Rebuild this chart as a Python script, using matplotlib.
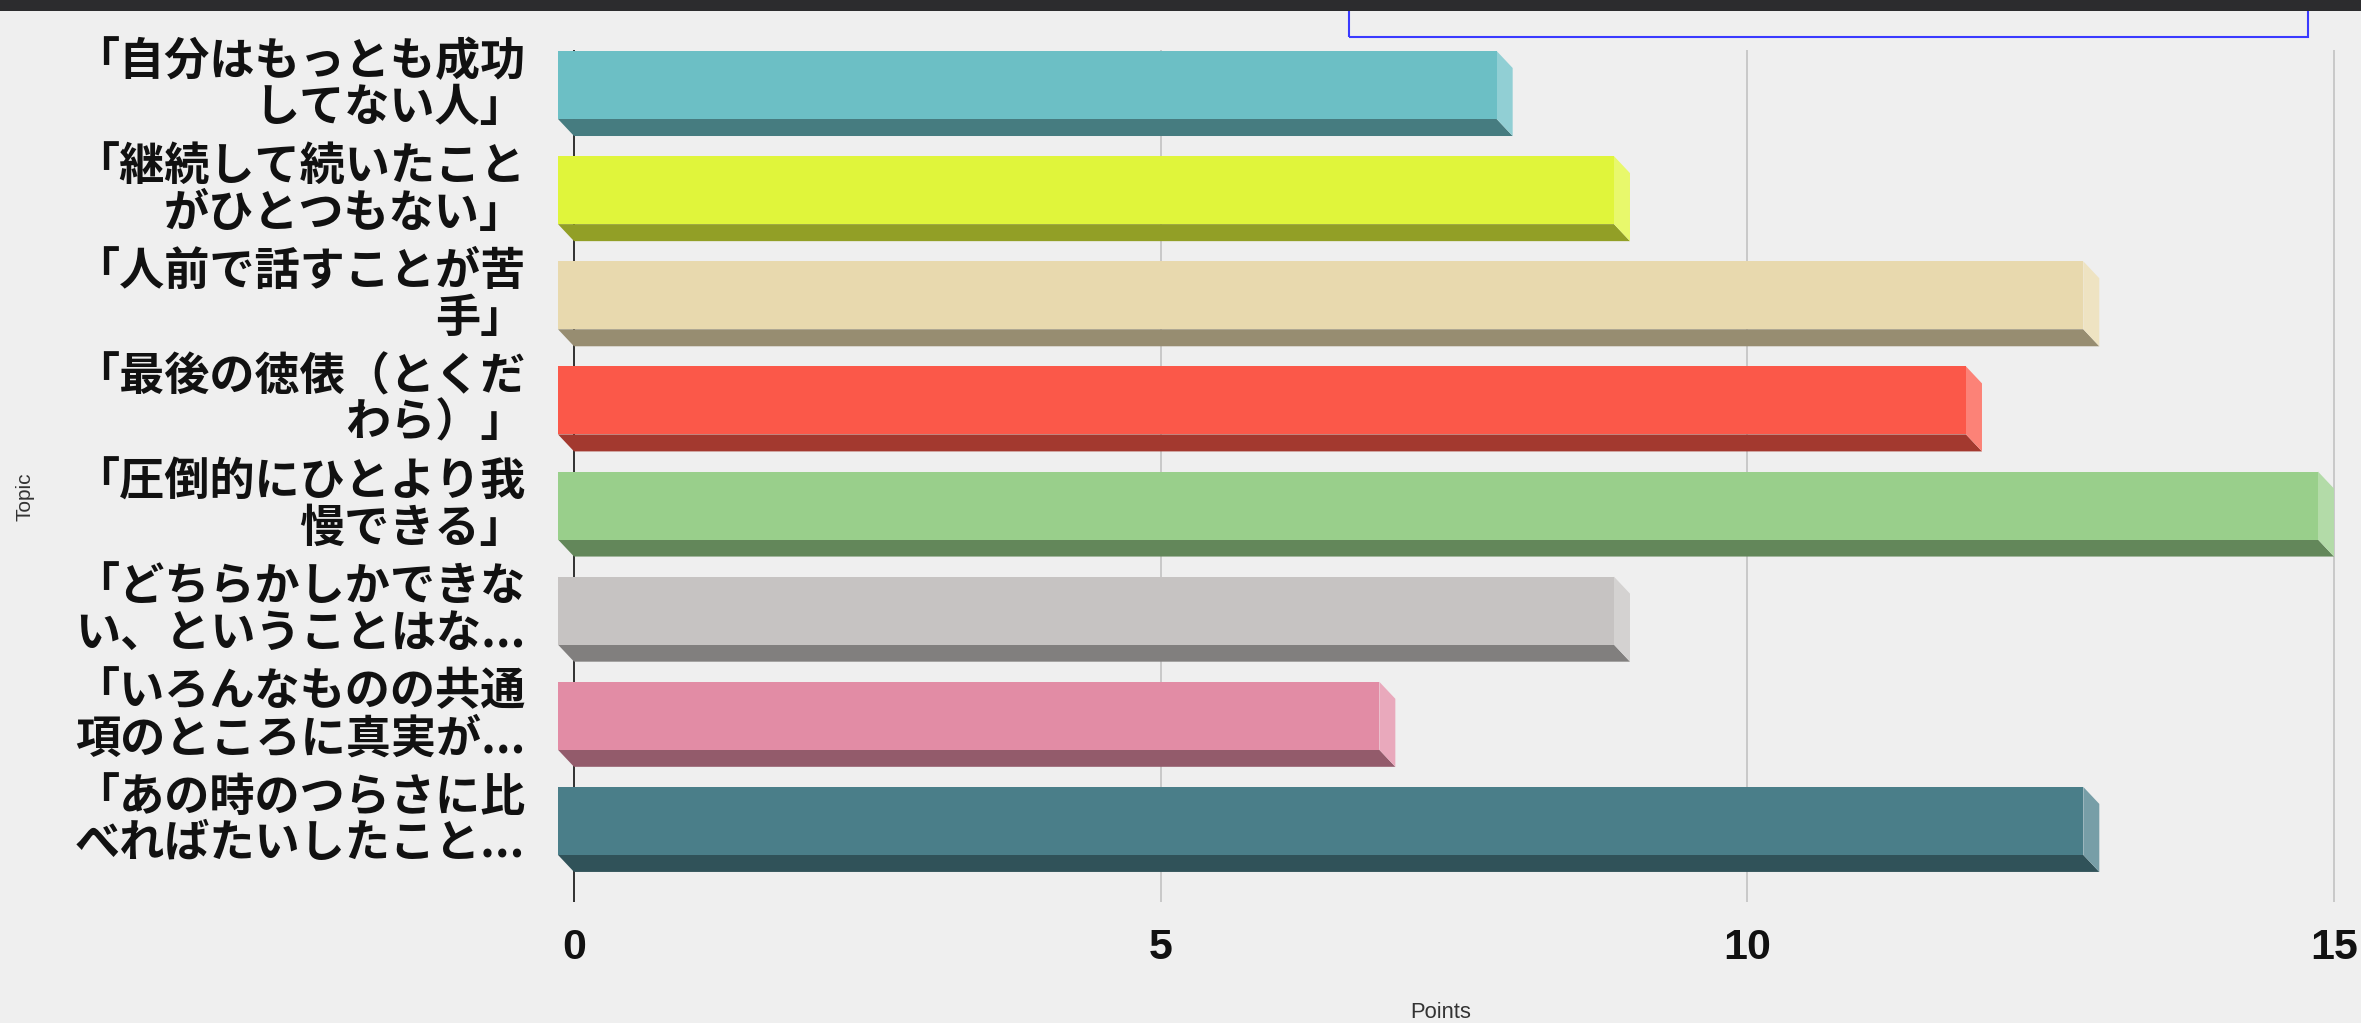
import matplotlib
matplotlib.use("Agg")
import matplotlib.pyplot as plt
from matplotlib.patches import Rectangle, Polygon
from matplotlib.colors import to_rgb

plt.rcParams["font.family"] = ["Noto Sans CJK JP", "DejaVu Sans"]

# data
topics = [
    "「自分はもっとも成功\nしてない人」",
    "「継続して続いたこと\nがひとつもない」",
    "「人前で話すことが苦\n手」",
    "「最後の徳俵（とくだ\nわら）」",
    "「圧倒的にひとより我\n慢できる」",
    "「どちらかしかできな\nい、ということはな...",
    "「いろんなものの共通\n項のところに真実が...",
    "「あの時のつらさに比\nべればたいしたこと...",
]
points = [8, 9, 13, 12, 15, 9, 7, 13]
bar_colors = ["#6cbfc5", "#e0f53b", "#e8d9ae", "#fb5849",
              "#99cf8b", "#c6c3c2", "#e28ca5", "#4a7e89"]
x_ticks = [0, 5, 10, 15]

BG = "#efefef"
W, H, DPI = 2361, 1023, 100

def shade(c, k):
    r, g, b = to_rgb(c)
    return (r * k, g * k, b * k)

def tint(c, k):
    r, g, b = to_rgb(c)
    return (r + (1 - r) * k, g + (1 - g) * k, b + (1 - b) * k)

fig = plt.figure(figsize=(W / DPI, H / DPI), dpi=DPI, facecolor=BG)

# plot area in pixels (from top-left)
ax_l, ax_r, ax_t, ax_b = 544.7, 2345.7, 50, 902
ax = fig.add_axes([ax_l / W, 1 - ax_b / H, (ax_r - ax_l) / W, (ax_b - ax_t) / H])
ax.set_facecolor(BG)
xlo, xhi = -0.25, 15.1
ylo, yhi = 7.771, -0.333
ax.set_xlim(xlo, xhi)
ax.set_ylim(ylo, yhi)

ppx = (ax_r - ax_l) / (xhi - xlo)
ppy = (ax_b - ax_t) / (ylo - yhi)
dx = 16 / ppx   # 3d depth
dy = 17 / ppy
h = 68 / ppy    # bar thickness

for g in x_ticks[1:]:
    ax.axvline(g, color="#c6c6c6", lw=1.3, zorder=0)
ax.axvline(0, color="#222222", lw=1.3, zorder=1)

for i, (v, col) in enumerate(zip(points, bar_colors)):
    top, bot = i - h / 2, i + h / 2
    ax.add_patch(Polygon([(-dx, bot), (v - dx, bot), (v, bot + dy), (0, bot + dy)],
                         closed=True, fc=shade(col, 0.65), ec="none", zorder=3, clip_on=False))
    ax.add_patch(Polygon([(v - dx, top), (v, top + dy), (v, bot + dy), (v - dx, bot)],
                         closed=True, fc=tint(col, 0.25), ec="none", zorder=3, clip_on=False))
    ax.add_patch(Rectangle((-dx, top), v, h, fc=col, ec="none", zorder=4, clip_on=False))

for s in ax.spines.values():
    s.set_visible(False)

ax.set_xticks(x_ticks)
ax.set_xticklabels([str(t) for t in x_ticks], fontfamily="Liberation Sans",
                   fontweight="bold", fontsize=31, color="#111111")
ax.tick_params(axis="x", length=0, pad=19)

ax.set_yticks(range(len(topics)))
ax.set_yticklabels(topics, fontsize=32.5, fontweight="bold", color="#111111",
                   linespacing=1.02, va="center")
ax.tick_params(axis="y", length=0, pad=14)

ax.set_xlabel("Points", fontfamily="Liberation Sans", fontsize=15.8, color="#333333")
ax.xaxis.set_label_coords((1441 - ax_l) / (ax_r - ax_l), -(1012 - ax_b) / (ax_b - ax_t))
ax.xaxis.label.set_va("center")
ax.set_ylabel("Topic", fontfamily="Liberation Sans", fontsize=15, color="#333333")
ax.yaxis.set_label_coords((25 - ax_l) / (ax_r - ax_l), (ax_b - 497) / (ax_b - ax_t))
ax.yaxis.label.set_va("center")

# top window strip and the blue selection box
fig.patches.append(Rectangle((1349 / W, 1 - 37 / H), (2308 - 1349) / W, 60 / H,
                             transform=fig.transFigure, fill=False, ec="#3a3aff", lw=1.5))
fig.patches.append(Rectangle((0, 1 - 11 / H), 1, 11 / H, transform=fig.transFigure,
                             fc="#2c2c2e", ec="none"))

fig.savefig("out.png", dpi=DPI, facecolor=BG)
